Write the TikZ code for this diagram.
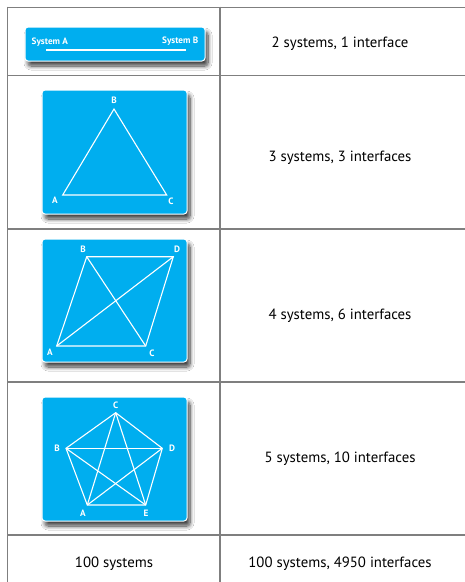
\documentclass[tikz,border=0pt]{standalone}
\usepackage{fontspec}
\setmainfont{PT Sans}
\usetikzlibrary{shadows.blur}
\definecolor{sysblue}{HTML}{00AEEF}
\definecolor{gridgray}{HTML}{7F7F7F}
\begin{document}
\begin{tikzpicture}[x=1pt,y=-1pt,
  panel/.style={fill=sysblue, draw=white, line width=1pt, rounded corners=3pt,
    inner sep=0pt, outer sep=0pt,
    blur shadow={shadow xshift=3pt, shadow yshift=-5pt, shadow blur steps=10, shadow blur radius=4pt, shadow opacity=75}},
  wire/.style={draw=white, line width=1.1pt},
  lbl/.style={text=white, font=\bfseries\fontsize{9.2}{10}\selectfont, inner sep=0pt},
  cell/.style={font=\fontsize{14.8}{16}\selectfont, inner sep=0pt},
  gridline/.style={draw=gridgray, line width=1.6pt}]
\useasboundingbox (0,0) rectangle (465,582);
\fill[white] (0,0) rectangle (465,582);

% grid
\draw[gridline] (7.5,7.5) -- (465,7.5);
\draw[gridline] (7.5,75.5) -- (465,75.5);
\draw[gridline] (7.5,229) -- (465,229);
\draw[gridline] (7.5,382) -- (465,382);
\draw[gridline] (7.5,535) -- (465,535);
\draw[gridline] (7.5,6.7) -- (7.5,582);
\draw[gridline] (220,6.7) -- (220,582);

% panels
\node[panel, minimum width=180pt, minimum height=34pt] (p1) at (115,44) {};
\node[panel, minimum width=145pt, minimum height=124pt] (p2) at (114.5,152) {};
\node[panel, minimum width=145pt, minimum height=123pt] (p3) at (114.5,300.5) {};
\node[panel, minimum width=145pt, minimum height=124pt] (p4) at (114.5,459) {};

% row 1
\coordinate (sa) at (46,50);
\coordinate (sb) at (186,50);
\draw[wire] (sa) -- (sb);
\node[lbl, anchor=west] (la) at (31.5,42) {System A};
\node[lbl, anchor=east] (lb) at (198.5,41) {System B};

% row 2
\coordinate (t2A) at (62.7,195);
\coordinate (t2B) at (114,109);
\coordinate (t2C) at (166.7,195);
\draw[wire, line join=miter] (t2A) -- (t2B) -- (t2C) -- cycle;
\node[lbl] (l2A) at (55,200) {A};
\node[lbl] (l2B) at (114,100) {B};
\node[lbl] (l2C) at (171,201) {C};

% row 3
\coordinate (q3A) at (56.7,346);
\coordinate (q3B) at (86.7,256.7);
\coordinate (q3C) at (145.7,346);
\coordinate (q3D) at (173.3,256.7);
\draw[wire] (q3A) -- (q3B) -- (q3D) -- (q3C) -- cycle;
\draw[wire] (q3A) -- (q3D);
\draw[wire] (q3B) -- (q3C);
\node[lbl] (l3A) at (50,352) {A};
\node[lbl] (l3B) at (83,249) {B};
\node[lbl] (l3C) at (152,353) {C};
\node[lbl] (l3D) at (177,249) {D};

% row 4
\coordinate (f4A) at (87.3,505);
\coordinate (f4B) at (66,448.3);
\coordinate (f4C) at (115.7,412.7);
\coordinate (f4D) at (162.3,448.3);
\coordinate (f4E) at (145.7,505);
\draw[wire] (f4A) -- (f4B) -- (f4C) -- (f4D) -- (f4E) -- cycle;
\draw[wire] (f4A) -- (f4C);
\draw[wire] (f4A) -- (f4D);
\draw[wire] (f4B) -- (f4D);
\draw[wire] (f4B) -- (f4E);
\draw[wire] (f4C) -- (f4E);
\node[lbl] (l4A) at (83,513) {A};
\node[lbl] (l4B) at (57,448) {B};
\node[lbl] (l4C) at (115.7,405) {C};
\node[lbl] (l4D) at (172,448) {D};
\node[lbl] (l4E) at (146,513) {E};

% right column texts
\node[cell] (r1) at (340,44) {2 systems, 1 interface};
\node[cell] (r2) at (340,158) {3 systems, 3 interfaces};
\node[cell] (r3) at (340,316) {4 systems, 6 interfaces};
\node[cell] (r4) at (340,459) {5 systems, 10 interfaces};
\node[cell] (r5) at (340,564) {100 systems, 4950 interfaces};
\node[cell] (l5) at (114,564) {100 systems};
\end{tikzpicture}
\end{document}
